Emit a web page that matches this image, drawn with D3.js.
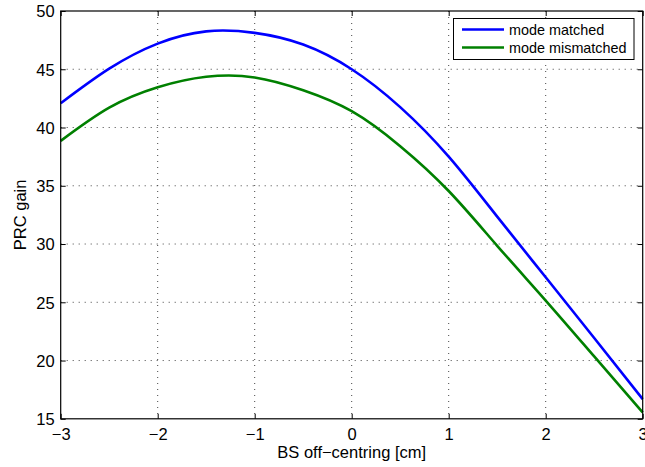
<!DOCTYPE html>
<html>
<head>
<meta charset="utf-8">
<script src="https://cdn.jsdelivr.net/npm/d3@7"></script>
<style>
  html, body { margin: 0; padding: 0; background: #fff; }
  svg { display: block; font-family: "Liberation Sans", Arial, Helvetica, sans-serif; }
</style>
</head>
<body>
<svg id="chart" width="645" height="467"></svg>
<script>
// Beam-splitter offset positions [cm]
const offsets = [-3, -2.5, -2, -1.5, -1, -0.5, 0, 0.5, 1, 1.5, 2, 2.5, 3];
// PRC gain for the two cases
const gainMatched    = [42.08, 45.05, 47.2, 48.25, 48.12, 47.12, 45.0, 41.75, 37.5, 32.35, 27.15, 21.93, 16.69];
const gainMismatched = [38.85, 41.7, 43.45, 44.35, 44.3, 43.2, 41.4, 38.4, 34.55, 29.85, 25.15, 20.35, 15.55];

const seriesNames  = ["mode matched", "mode mismatched"];
const seriesColors = ["#0000ff", "#008000"];
const xTicks = [-3, -2, -1, 0, 1, 2, 3];
const yTicks = [15, 20, 25, 30, 35, 40, 45, 50];
const xLabel = "BS off\u2212centring [cm]";
const yLabel = "PRC gain";

const svg = d3.select("#chart");
const L = 60.7, R = 642.7, T = 11, B = 418.8;

const x = d3.scaleLinear().domain([-3, 3]).range([L, R]);
const y = d3.scaleLinear().domain([15, 50]).range([B, T]);

const fmt = d => (d < 0 ? "\u2212" + Math.abs(d) : String(d));

// dotted grid
const grid = svg.append("g").attr("stroke", "#444").attr("stroke-width", 1)
  .attr("stroke-dasharray", "1,5");
xTicks.slice(1, -1).forEach(t => {
  grid.append("line").attr("x1", x(t)).attr("x2", x(t)).attr("y1", T).attr("y2", B);
});
yTicks.slice(1, -1).forEach(t => {
  grid.append("line").attr("x1", L).attr("x2", R).attr("y1", y(t)).attr("y2", y(t));
});

// curves
const line = d3.line().curve(d3.curveNatural);
[gainMatched, gainMismatched].forEach((vals, i) => {
  svg.append("path")
    .attr("d", line(offsets.map((o, k) => [x(o), y(vals[k])])))
    .attr("fill", "none")
    .attr("stroke", seriesColors[i])
    .attr("stroke-width", 2.6)
    .attr("stroke-linejoin", "round");
});

// axes with inward ticks (box style)
const tickLen = 5;
const axBottom = svg.append("g").attr("transform", `translate(0,${B})`)
  .call(d3.axisBottom(x).tickValues(xTicks).tickFormat(fmt).tickSizeInner(-tickLen).tickSizeOuter(0).tickPadding(9));
const axTop = svg.append("g").attr("transform", `translate(0,${T})`)
  .call(d3.axisTop(x).tickValues(xTicks).tickFormat("").tickSizeInner(-tickLen).tickSizeOuter(0));
const axLeft = svg.append("g").attr("transform", `translate(${L},0)`)
  .call(d3.axisLeft(y).tickValues(yTicks).tickFormat(fmt).tickSizeInner(-tickLen).tickSizeOuter(0).tickPadding(6));
const axRight = svg.append("g").attr("transform", `translate(${R},0)`)
  .call(d3.axisRight(y).tickValues(yTicks).tickFormat("").tickSizeInner(-tickLen).tickSizeOuter(0));

[axBottom, axTop, axLeft, axRight].forEach(g => {
  g.select(".domain").remove();
  g.selectAll("line").attr("stroke", "#000").attr("stroke-width", 1);
  g.selectAll("text").attr("fill", "#000").attr("font-size", 16.5)
    .attr("font-family", "'Liberation Sans', Arial, sans-serif");
});
axBottom.selectAll("text").attr("dy", "0.71em");
axLeft.selectAll("text").attr("dy", "0.36em");

// axis box
svg.append("rect").attr("x", L).attr("y", T).attr("width", R - L).attr("height", B - T)
  .attr("fill", "none").attr("stroke", "#000").attr("stroke-width", 1.2);

// axis titles
svg.append("text").attr("x", (L + R) / 2).attr("y", 458)
  .attr("text-anchor", "middle").attr("font-size", 16.5).text(xLabel);
svg.append("text").attr("transform", `translate(26,${(T + B) / 2}) rotate(-90)`)
  .attr("text-anchor", "middle").attr("font-size", 16.5).text(yLabel);

// legend
const lg = svg.append("g");
lg.append("rect").attr("x", 453.5).attr("y", 18.5).attr("width", 180.5).attr("height", 41)
  .attr("fill", "#fff").attr("stroke", "#000").attr("stroke-width", 1);
seriesNames.forEach((name, i) => {
  const ly = 29.5 + i * 18;
  lg.append("line").attr("x1", 462).attr("x2", 504).attr("y1", ly).attr("y2", ly)
    .attr("stroke", seriesColors[i]).attr("stroke-width", 2.6);
  lg.append("text").attr("x", 509).attr("y", ly).attr("dy", "0.35em")
    .attr("font-size", 14.4).attr("fill", "#000").text(name);
});
</script>
</body>
</html>
